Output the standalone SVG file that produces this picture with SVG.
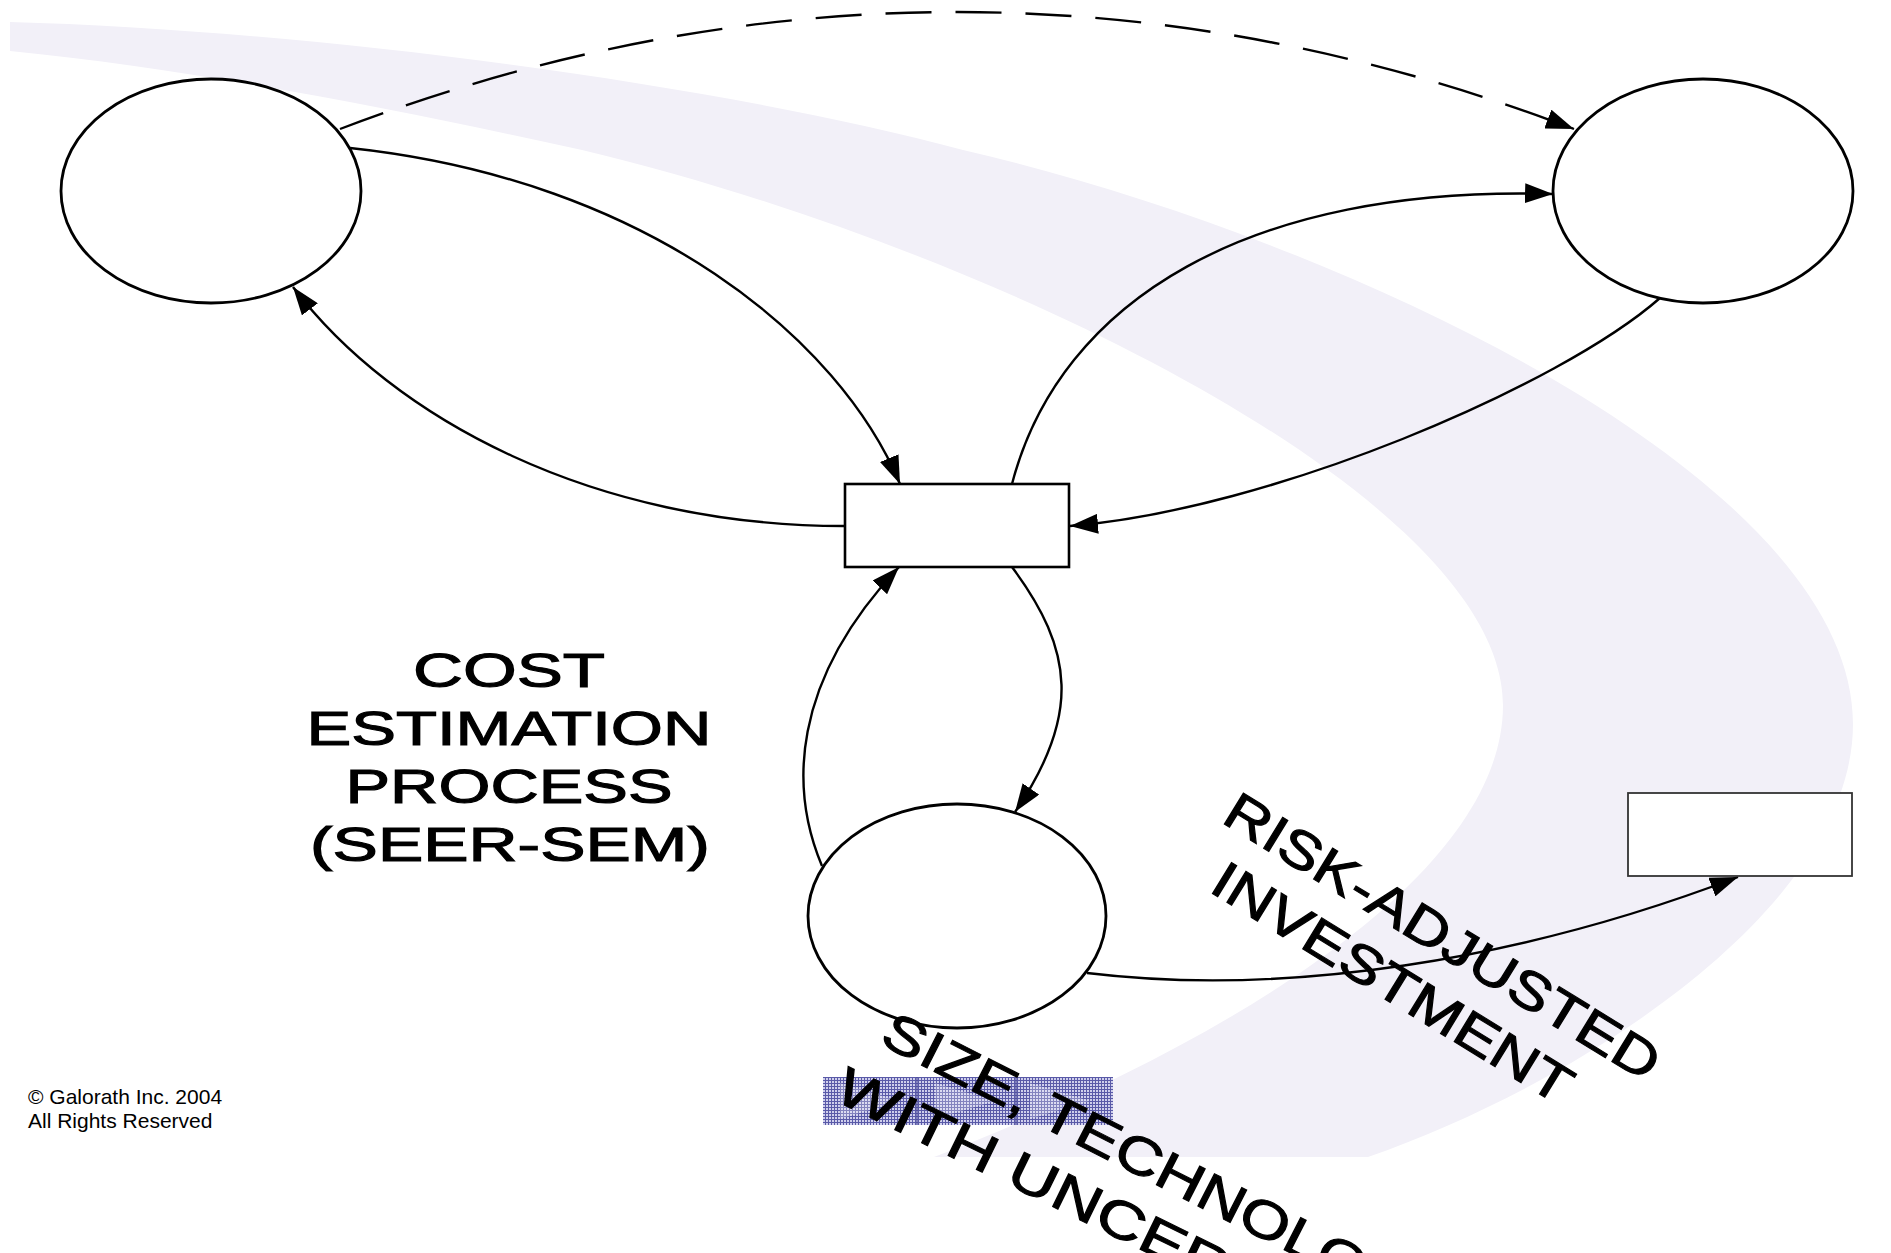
<svg xmlns="http://www.w3.org/2000/svg" width="1891" height="1253" viewBox="0 0 1891 1253">
  <style>
    .node { fill: #ffffff; stroke: #000000; stroke-width: 2.8; }
    .box { fill: #ffffff; stroke: #000000; stroke-width: 2.6; }
    .box-thin { fill: #ffffff; stroke: #333333; stroke-width: 1.8; }
    .link { fill: none; stroke: #000000; stroke-width: 2.4; marker-end: url(#ah); }
    .dashed { stroke-dasharray: 46 24; }
    .big { font-family: "Liberation Sans", Arial, sans-serif; font-size: 49px; fill: #000000; stroke: #000000; stroke-width: 1.1; }
    .tilt { font-size: 53px; }
    .note { font-family: "Liberation Sans", Arial, sans-serif; font-size: 21px; fill: #000000; }
  </style>
  <defs>
    <marker id="ah" markerUnits="userSpaceOnUse" viewBox="0 0 28 20" markerWidth="28" markerHeight="20" refX="28" refY="10" orient="auto">
      <path d="M0,0 L28,10 L0,20 z" fill="#000000"/>
    </marker>
    <pattern id="mesh" width="3" height="3" patternUnits="userSpaceOnUse">
      <rect width="3" height="3" fill="#cfcfec"/>
      <rect width="3" height="1" fill="#5a5aa8"/>
      <rect width="1" height="3" fill="#5a5aa8"/>
    </pattern>
  </defs>

  <rect width="1891" height="1253" fill="#ffffff"/>

  <!-- sweeping background band -->
  <path id="band" fill="#f2f0f8" d="M10,22 C300,30 700,80 963,150 C1350,240 1853,480 1853,724 C1853,900 1600,1075 1368,1157 L934,1157 C1150,1075 1503,900 1503,705 C1503,500 1000,250 582,150 C400,110 200,70 10,51 Z"/>

  <!-- patterned strip -->
  <g id="strip">
    <rect x="823" y="1077" width="290" height="48" fill="url(#mesh)"/>
    <g fill="#ffffff" fill-opacity="0.25">
      <polygon points="840,1083 900,1101 840,1119"/>
      <polygon points="935,1083 995,1101 935,1119"/>
      <polygon points="1030,1083 1090,1101 1030,1119"/>
    </g>
    <g stroke="#4a4a9a" stroke-width="1.2">
      <line x1="917" y1="1077" x2="917" y2="1125"/>
      <line x1="1016" y1="1077" x2="1016" y2="1125"/>
    </g>
  </g>

  <!-- connectors -->
  <g id="connectors">
    <path class="link dashed" d="M340,129 C750,-27 1164,-27 1574,129"/>
    <path class="link" d="M350,148 C650,180 840,340 900,484"/>
    <path class="link" d="M844,526 C594,526 393,419 293,287"/>
    <path class="link" d="M1012,484 C1060,300 1250,185 1553,194"/>
    <path class="link" d="M1660,298 C1560,386 1270,510 1070,526"/>
    <path class="link" d="M1012,567 C1074,650 1081,716 1015,812"/>
    <path class="link" d="M822,866 C790,790 790,683 899,567"/>
    <path class="link" d="M1087,973 C1285,997 1518,961 1738,877"/>
  </g>

  <!-- nodes -->
  <g id="node-left">
    <ellipse class="node" cx="211" cy="191" rx="150" ry="112"/>
  </g>
  <g id="node-right">
    <ellipse class="node" cx="1703" cy="191" rx="150" ry="112"/>
  </g>
  <g id="node-center">
    <rect class="box" x="845" y="484" width="224" height="83"/>
  </g>
  <g id="node-bottom">
    <ellipse class="node" cx="957" cy="916" rx="149" ry="112"/>
  </g>
  <g id="node-output">
    <rect class="box-thin" x="1628" y="793" width="224" height="83"/>
  </g>

  <!-- labels -->
  <g id="label-process" class="big" text-anchor="middle">
    <text x="509" y="687" textLength="192" lengthAdjust="spacingAndGlyphs">COST</text>
    <text x="509" y="745" textLength="405" lengthAdjust="spacingAndGlyphs">ESTIMATION</text>
    <text x="509" y="803" textLength="327" lengthAdjust="spacingAndGlyphs">PROCESS</text>
    <text x="510" y="861" textLength="400" lengthAdjust="spacingAndGlyphs">(SEER-SEM)</text>
  </g>

  <g id="label-risk" class="big tilt" text-anchor="middle">
    <text transform="translate(1443,936) rotate(31.5)" x="0" y="19" textLength="500" lengthAdjust="spacingAndGlyphs">RISK-ADJUSTED</text>
    <text transform="translate(1393,982) rotate(31.5)" x="0" y="19" textLength="412" lengthAdjust="spacingAndGlyphs">INVESTMENT</text>
  </g>

  <g id="label-size" class="big tilt">
    <text transform="translate(878,1043) rotate(27)" x="0" y="0" textLength="630" lengthAdjust="spacingAndGlyphs">SIZE, TECHNOLOGY</text>
    <text transform="translate(832,1099) rotate(26)" x="0" y="0" textLength="665" lengthAdjust="spacingAndGlyphs">WITH UNCERTAINTY</text>
  </g>

  <g id="copyright" class="note">
    <text x="28" y="1104">© Galorath Inc. 2004</text>
    <text x="28" y="1128">All Rights Reserved</text>
  </g>
</svg>
